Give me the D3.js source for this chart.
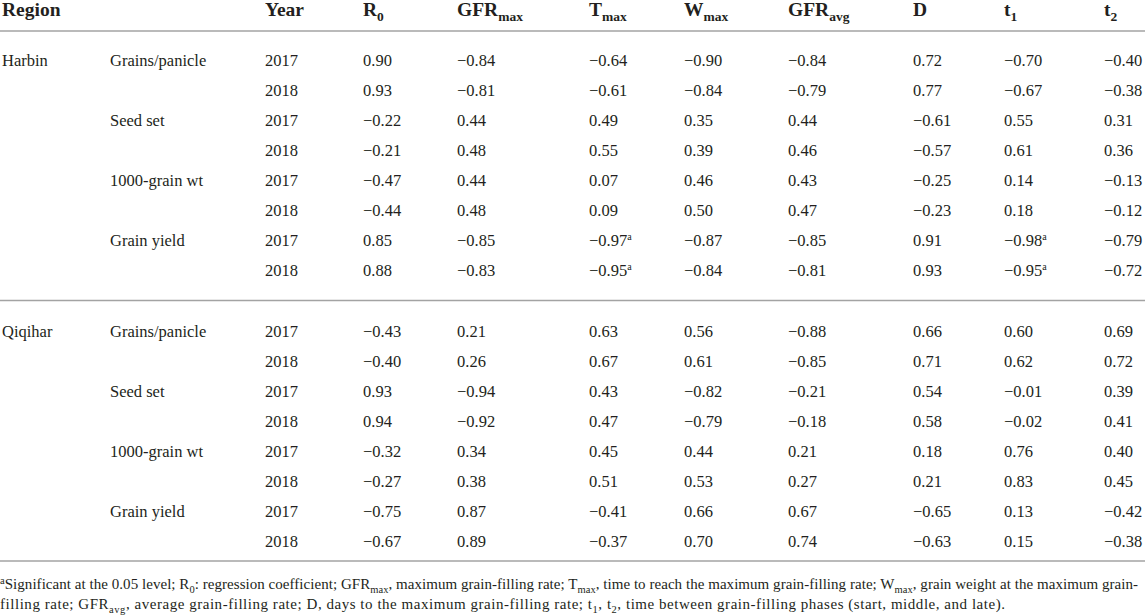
<!DOCTYPE html>
<html>
<head>
<meta charset="utf-8">
<script src="https://cdn.jsdelivr.net/npm/d3@7"></script>
<style>
  html, body { margin: 0; padding: 0; background: #fff; }
  svg { display: block; }
  text { font-family: "Liberation Serif", "DejaVu Serif", serif; fill: #231f20; }
</style>
</head>
<body>
<svg id="chart" width="1145" height="615"></svg>
<script>
// ---------- data ----------
const regions = ["Harbin", "Qiqihar"];
const traits = ["Grains/panicle", "Seed set", "1000-grain wt", "Grain yield"];
const years = ["2017", "2018"];
const columns = ["R0", "GFRmax", "Tmax", "Wmax", "GFRavg", "D", "t1", "t2"];
const headerMain = ["R", "GFR", "T", "W", "GFR", "D", "t", "t"];
const headerSub  = ["0", "max", "max", "max", "avg", "", "1", "2"];

// one value per row: Harbin (GP17, GP18, SS17, SS18, TGW17, TGW18, GY17, GY18), then Qiqihar (same order)
const R0     = [0.90, 0.93, -0.22, -0.21, -0.47, -0.44, 0.85, 0.88,  -0.43, -0.40, 0.93, 0.94, -0.32, -0.27, -0.75, -0.67];
const GFRmax = [-0.84, -0.81, 0.44, 0.48, 0.44, 0.48, -0.85, -0.83,  0.21, 0.26, -0.94, -0.92, 0.34, 0.38, 0.87, 0.89];
const Tmax   = [-0.64, -0.61, 0.49, 0.55, 0.07, 0.09, -0.97, -0.95,  0.63, 0.67, 0.43, 0.47, 0.45, 0.51, -0.41, -0.37];
const Wmax   = [-0.90, -0.84, 0.35, 0.39, 0.46, 0.50, -0.87, -0.84,  0.56, 0.61, -0.82, -0.79, 0.44, 0.53, 0.66, 0.70];
const GFRavg = [-0.84, -0.79, 0.44, 0.46, 0.43, 0.47, -0.85, -0.81,  -0.88, -0.85, -0.21, -0.18, 0.21, 0.27, 0.67, 0.74];
const D      = [0.72, 0.77, -0.61, -0.57, -0.25, -0.23, 0.91, 0.93,  0.66, 0.71, 0.54, 0.58, 0.18, 0.21, -0.65, -0.63];
const t1     = [-0.70, -0.67, 0.55, 0.61, 0.14, 0.18, -0.98, -0.95,  0.60, 0.62, -0.01, -0.02, 0.76, 0.83, 0.13, 0.15];
const t2     = [-0.40, -0.38, 0.31, 0.36, -0.13, -0.12, -0.79, -0.72,  0.69, 0.72, 0.39, 0.41, 0.40, 0.45, -0.42, -0.38];
// significance (0.05 level) flags per column
const sigTmax = [0,0,0,0,0,0,1,1, 0,0,0,0,0,0,0,0];
const sigT1   = [0,0,0,0,0,0,1,1, 0,0,0,0,0,0,0,0];

const footnoteLines = [
  [["a","sup"],["Significant at the 0.05 level; R",""],["0","sub"],[": regression coefficient; GFR",""],["max","sub"],[", maximum grain-filling rate; T",""],["max","sub"],[", time to reach the maximum grain-filling rate; W",""],["max","sub"],[", grain weight at the maximum grain-",""]],
  [["filling rate; GFR",""],["avg","sub"],[", average grain-filling rate; D, days to the maximum grain-filling rate; t",""],["1","sub"],[", t",""],["2","sub"],[", time between grain-filling phases (start, middle, and late).",""]]
];

// ---------- layout ----------
const values = { R0, GFRmax, Tmax, Wmax, GFRavg, D, t1, t2 };
const sig = { Tmax: sigTmax, t1: sigT1 };
const xPos = d3.scaleOrdinal()
  .domain(["Region", "Trait", "Year"].concat(columns))
  .range([2, 110, 265, 363, 457, 589, 684, 788, 913, 1004, 1104]);

const regionY = d3.scaleOrdinal().domain(regions).range([60, 331]);
const rowY = d3.scaleLinear().domain([0, 7]).range([0, 210]);
const yOf = i => regionY(regions[Math.floor(i / 8)]) + rowY(i % 8);

const rows = d3.range(16).map(i => ({
  i,
  region: (i % 8 === 0) ? regions[Math.floor(i / 8)] : "",
  trait: (i % 2 === 0) ? traits[Math.floor((i % 8) / 2)] : "",
  year: years[i % 2]
}));

const svg = d3.select("#chart");
const fmt = v => (v < 0 ? "\u2212" : "") + Math.abs(v).toFixed(2);
const bodySize = 16.5;

// header
const header = svg.append("g");
const headY = 16;
header.append("text").attr("x", xPos("Region")).attr("y", headY)
  .attr("font-size", 19.5).attr("font-weight", "bold").text("Region");
header.append("text").attr("x", xPos("Year")).attr("y", headY)
  .attr("font-size", 19.5).attr("font-weight", "bold").text("Year");
columns.forEach((c, k) => {
  const t = header.append("text").attr("x", xPos(c)).attr("y", headY)
    .attr("font-size", 19.5).attr("font-weight", "bold");
  t.append("tspan").text(headerMain[k]);
  if (headerSub[k]) t.append("tspan").attr("font-size", 13.5).attr("dy", 5).text(headerSub[k]);
});

// rules
const ruleColor = "#a3a3a3";
[31, 300.5, 561].forEach(y => {
  svg.append("line").attr("x1", 0).attr("x2", 1145).attr("y1", y).attr("y2", y)
    .attr("stroke", ruleColor).attr("stroke-width", 1.5);
});

// body rows
const g = svg.append("g").attr("font-size", bodySize);
const rowG = g.selectAll("g.row").data(rows).join("g")
  .attr("class", "row")
  .attr("transform", d => `translate(0,${yOf(d.i)})`);

rowG.append("text").attr("x", xPos("Region")).attr("dy", "0.35em").text(d => d.region);
rowG.append("text").attr("x", xPos("Trait")).attr("dy", "0.35em").text(d => d.trait);
rowG.append("text").attr("x", xPos("Year")).attr("dy", "0.35em").text(d => d.year);

columns.forEach(c => {
  rowG.append("text").attr("x", xPos(c)).attr("dy", "0.35em")
    .each(function (d) {
      const t = d3.select(this);
      t.append("tspan").text(fmt(values[c][d.i]));
      if (sig[c] && sig[c][d.i]) {
        t.append("tspan").attr("font-size", 10).attr("dy", -6).text("a");
      }
    });
});

// footnote
const fn = svg.append("g").attr("font-size", 15);
const fnWidths = [1138, 1005];
footnoteLines.forEach((parts, li) => {
  const t = fn.append("text").attr("x", 0).attr("y", 589 + li * 20)
    .attr("textLength", fnWidths[li]).attr("lengthAdjust", "spacing");
  let shift = 0;
  parts.forEach(([txt, kind]) => {
    const ts = t.append("tspan").text(txt);
    let target = 0;
    if (kind === "sub") { ts.attr("font-size", 10.5); target = 3.5; }
    else if (kind === "sup") { ts.attr("font-size", 10.5); target = -5; }
    ts.attr("dy", target - shift);
    shift = target;
  });
});
</script>
</body>
</html>
